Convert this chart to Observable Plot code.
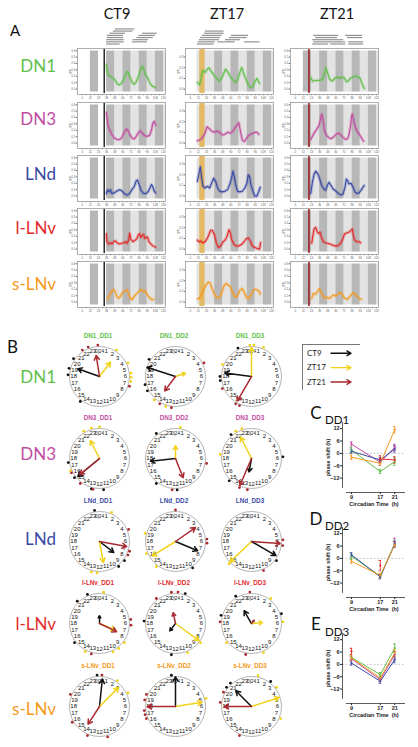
<!DOCTYPE html>
<html><head><meta charset="utf-8">
<script src="https://cdn.jsdelivr.net/npm/d3@7"></script>
<script src="https://cdn.jsdelivr.net/npm/@observablehq/plot@0.6"></script>
<style>
html,body{margin:0;padding:0;background:#fff}
#root{position:relative;width:418px;height:747px;overflow:hidden;background:#fff}
#root svg{position:absolute;display:block}
.lbl{position:absolute;white-space:nowrap;line-height:1}
</style></head><body><div id="root"></div><script>
// ================= DATA =================
const neurons = ["DN1","DN3","LNd","l-LNv","s-LNv"];
const neuronColors = ["#62bf4b","#c24c9f","#3a4aa4","#e42a2b","#f49a20"];
const conditions = ["CT9","ZT17","ZT21"];
const conditionColors = ["#111111","#f1d21a","#a92a31"];
const days = ["DD1","DD2","DD3"];

// light schedule bands (hours)
const darkCT9  = [[12,24],[36,48],[60,72],[84,96],[108,120]];
const lightCT9 = [[48,60],[72,84],[96,108],[120,123]];
const darkZT17  = [[36,48],[60,72],[84,96],[108,120]];
const lightZT17 = [[10,36],[48,60],[72,84],[96,108],[120,123]];
const darkZT21  = [[12,24],[36,48],[60,72],[84,96],[108,120]];
const lightZT21 = [[24,36],[48,60],[72,84],[96,108],[120,123]];
// stimulation windows (hours)
const pulseStart = [32.2, 14, 19.8];
const pulseEnd   = [34.2, 22, 22.2];

// significance bars above panel A: [row, start h, end h]
const ganttCT9  = [[0,36,56],[1,36,62],[1,74,96],[2,36,62],[2,75,98],[3,37,61],[3,81,105],[4,37,61],[4,84,108],[5,41,64],[5,89,111],[6,46,75],[7,49,78]];
const ganttZT17 = [[0,10.5,35.5],[1,12,37],[1,41,66.5],[1,80,103],[2,13.4,43],[2,52,74],[3,15,44.4],[3,58,84],[4,18,47],[4,61,86],[5,21,50],[6,22.3,50]];
const ganttZT21 = [[0,25.8,49.4],[0,52.4,74.5],[0,79,101],[1,27.3,55.3],[1,55.3,74.5],[1,79,101],[2,25.8,71.5],[3,30.2,62.7],[3,77.4,99.6],[4,27.3,64.2],[4,74.5,99.6]];

// GCaMP traces (time h, signal)
const t_CT9_DN1 = [35.5,36.5,38,41.4,45.4,48.8,52.3,55.2,58.7,62.1,65,67,69,70.9,73.9,76.8,79.8,83.2,86.7,88.6,90.6,93.6,96.5,100.4,104.4,108.3];
const v_CT9_DN1 = [0.385,0.30,0.225,0.2,0.175,0.135,0.075,0.065,0.1,0.175,0.25,0.275,0.235,0.175,0.1,0.075,0.115,0.2,0.315,0.36,0.315,0.225,0.175,0.085,0.04,0.025];
const t_CT9_DN3 = [35.6,36.5,38,40.5,43.9,47.4,51.3,55.2,58.7,62.1,65.1,67,70,73.4,76.9,79.8,83.3,85.7,88.7,91.6,95.5,99.5,102.4,104.4,106.3,108.3];
const v_CT9_DN3 = [0.48,0.405,0.28,0.205,0.13,0.08,0.055,0.055,0.09,0.17,0.22,0.205,0.14,0.08,0.065,0.105,0.17,0.19,0.155,0.12,0.105,0.12,0.205,0.32,0.34,0.28];
const t_CT9_LNd = [35.6,37.5,39.5,41.5,43.9,47.4,51.3,55.2,58.7,62.1,66.1,70,73.4,76.9,79.8,81.8,83.7,86.7,90.6,94.6,98,100.5,102.4,104.4,106.3,108.3];
const v_CT9_LNd = [0.04,0.1,0.065,0.1,0.04,0.05,0.08,0.1,0.08,0.04,0.015,0.04,0.1,0.15,0.24,0.25,0.19,0.09,0.04,0.04,0.08,0.14,0.18,0.14,0.08,0.05];
const t_CT9_lLNv = [35.6,36.5,39,41.5,43.9,46.4,48.8,51.3,55.2,58.7,61.1,63.6,66,68.5,70,71.9,74.9,78.3,80.8,83.2,84.7,86.7,88.7,90.6,92.6,94.6,96.5,98.5,101.4,104.4,108.3];
const v_CT9_lLNv = [0.24,0.115,0.08,0.1,0.08,0.115,0.13,0.1,0.08,0.09,0.1,0.115,0.09,0.14,0.25,0.15,0.115,0.14,0.165,0.23,0.24,0.18,0.215,0.23,0.165,0.18,0.19,0.115,0.08,0.05,0.03];
const t_CT9_sLNv = [37.5,40.5,43.9,46.4,48.8,51.3,53.7,56.2,58.7,61.1,63.6,66,68.5,70.9,73.4,75.9,78.3,80.8,83.2,85.7,88.2,90.6,93.1,95.5,98,100.5,102.9,105.4];
const v_CT9_sLNv = [0.045,0.11,0.175,0.195,0.16,0.085,0.06,0.085,0.135,0.16,0.175,0.195,0.135,0.06,0.035,0.075,0.11,0.135,0.16,0.195,0.185,0.16,0.175,0.125,0.085,0.06,0.035,0.045];

const t_ZT17_DN1 = [10.5,13.9,16.9,18.8,21.8,25.2,27.7,31.6,35.6,39.5,42.4,46.4,49.3,52.3,55.2,59.2,63.1,67,70,72.9,75.9,78.8,81.8,85.7,89.1,92.6,95.5,98.5,100.5,102.4];
const v_ZT17_DN1 = [0.064,0.04,0.131,0.177,0.156,0.187,0.199,0.162,0.125,0.101,0.076,0.101,0.147,0.187,0.162,0.116,0.086,0.064,0.086,0.147,0.202,0.147,0.101,0.04,0.015,0.024,0.07,0.101,0.076,0.055];
const t_ZT17_DN3 = [10.5,13.9,16.9,18.8,21.8,24.7,27.7,31.6,35.6,39.5,43.4,47.4,51.3,55.2,59.2,63.1,67,70,71.9,74.4,76.9,79.8,82.8,85.7,89.1,92.6,95.5,98.5,101.4];
const v_ZT17_DN3 = [0.021,0.031,0.04,0.061,0.092,0.153,0.138,0.113,0.101,0.113,0.101,0.076,0.083,0.101,0.092,0.113,0.153,0.174,0.193,0.101,0.031,0.015,0.04,0.07,0.083,0.092,0.101,0.101,0.083];
const t_ZT17_LNd = [10.5,13,14.9,16.9,18.8,21.8,25.2,28.7,31.6,34.6,37.5,40.5,43.4,47.4,51.3,55.2,58.2,61.1,63.1,65.1,67,70,72.9,76.9,80.8,83.7,85.7,87.7,89.6,92.6,95.5,98.5,101.4,103.4];
const v_ZT17_LNd = [0.138,0.214,0.275,0.168,0.092,0.076,0.092,0.076,0.122,0.168,0.138,0.076,0.046,0.04,0.046,0.061,0.107,0.168,0.235,0.183,0.107,0.046,0.04,0.046,0.076,0.122,0.199,0.183,0.107,0.046,0.0,0.0,0.046,0.083];
const t_ZT17_lLNv = [10.5,13,15.4,17.9,20.3,22.8,26.7,30.1,32.6,35.6,38.5,41.5,44.9,48.3,52.3,55.2,57.2,59.2,61.1,64.6,68,72,75.9,79.3,82.8,85.7,88.7,91.6,95.5,99,102.4,103.9];
const v_ZT17_lLNv = [0.085,0.067,0.076,0.061,0.061,0.076,0.121,0.176,0.176,0.136,0.061,0.015,0.03,0.067,0.091,0.136,0.182,0.152,0.091,0.045,0.03,0.03,0.045,0.067,0.097,0.106,0.076,0.03,0.015,0.006,0.0,0.061];
const t_ZT17_sLNv = [10.5,13.9,16.9,20.3,23.8,26.7,29.7,32.6,35.6,38.5,41.5,44.9,47.4,50.3,53.3,56.2,59.2,62.1,65.1,68,71,73.9,76.9,79.8,82.8,85.7,89.1,92.6,95.5,98.5,101.4,103.4];
const v_ZT17_sLNv = [0.03,0.039,0.076,0.121,0.167,0.188,0.176,0.121,0.076,0.045,0.036,0.061,0.106,0.158,0.176,0.158,0.145,0.097,0.055,0.045,0.076,0.115,0.127,0.091,0.045,0.03,0.061,0.106,0.121,0.115,0.106,0.076];

const t_ZT21_DN1 = [22.9,25.3,30.3,35.2,40.1,42.5,45,47.5,50.9,54.8,58.8,62.2,65.7,69.6,72.5,75.5,78.4,81.9,85.3,89.3,93.2,96.1,98.1,100.1,102];
const v_ZT21_DN1 = [0.185,0.125,0.135,0.135,0.15,0.215,0.335,0.265,0.15,0.125,0.175,0.185,0.175,0.19,0.175,0.115,0.125,0.175,0.19,0.2,0.19,0.165,0.1,0.05,0.01];
const t_ZT21_DN3 = [22.9,25.3,29.3,32.7,35.2,37.6,39.1,41.1,43,46,49.9,53.9,57.3,60.7,63.7,67.1,70.6,74.5,77.5,79.4,81.9,83.4,84.3,86.3,89.3,93.2,96.6,99.1,101.1];
const v_ZT21_DN3 = [0.055,0.105,0.18,0.23,0.28,0.38,0.455,0.355,0.205,0.12,0.08,0.07,0.105,0.14,0.155,0.13,0.09,0.055,0.07,0.13,0.28,0.43,0.455,0.355,0.23,0.155,0.105,0.055,0.03];
const t_ZT21_LNd = [22.9,25.3,27.8,30.3,33.2,36.2,39.1,42.1,45,48,49.9,52.9,55.8,59.8,63.7,67.6,70.6,73.5,75.5,77.5,79.4,82.4,85.3,88.3,91.2,94.2,97.1,100.1,102];
const v_ZT21_LNd = [0.04,0.215,0.34,0.39,0.35,0.265,0.165,0.115,0.09,0.18,0.215,0.165,0.115,0.08,0.04,0.015,0.03,0.14,0.265,0.24,0.19,0.2,0.14,0.065,0.04,0.05,0.09,0.14,0.165];
const t_ZT21_lLNv = [24.3,25.8,27.8,30.2,32.7,34.7,36.6,38.6,41.5,44.5,47.4,51.4,54.8,58.3,62.2,66.1,69.6,73,76,79.4,81.9,84.3,85.8,87.8,90.7,94.2,96.6];
const v_ZT21_lLNv = [0.09,0.19,0.315,0.34,0.265,0.24,0.265,0.19,0.115,0.1,0.09,0.08,0.065,0.05,0.05,0.08,0.14,0.24,0.25,0.265,0.29,0.315,0.215,0.14,0.115,0.115,0.1];
const t_ZT21_sLNv = [24.3,26.8,30.2,32.7,35.6,37.6,40.1,43.5,47.4,50.4,53.3,56.3,59.7,63.2,67.1,70.1,73,77,80.9,84.3,86.8,89.7,92.7,95.6,97.6];
const v_ZT21_sLNv = [0.06,0.135,0.125,0.16,0.21,0.175,0.11,0.06,0.075,0.055,0.085,0.11,0.095,0.125,0.145,0.11,0.06,0.045,0.085,0.135,0.145,0.11,0.075,0.045,0.045];

// Panel B: mean phase vectors [neuron][DD1,DD2,DD3]
const hourCT9  = [[19.3,19.2,18.5],[15.35,17.6,12.7],[8.5,7.5,8.0],[0,14.5,22],[0.4,0,21]];
const lenCT9   = [[0.77,1.0,0.9],[0.94,0.84,0.46],[0.6,0.8,0.94],[0.26,0.31,0.49],[0.92,0.99,0.74]];
const hourZT17 = [[2.5,4.8,0],[22.2,0,22.2],[11.3,15.9,15.1],[7.5,8.4,5.7],[3.0,5.4,4.8]];
const lenZT17  = [[0.6,0.35,0.97],[0.67,0.43,0.8],[0.71,0.91,1.0],[0.58,0.97,0.37],[0.9,0.9,0.97]];
const hourZT21 = [[23.4,14.45,14.0],[15.4,10.55,13.56],[6.7,3.67,6.27],[7.7,23.2,2.6],[14.2,18,18]];
const lenZT21  = [[0.71,0.6,0.94],[0.85,0.69,0.98],[0.92,0.81,0.96],[0.63,0.37,0.14],[0.7,0.94,0.91]];
// individual phases (hours) [neuron][day]
const phasesCT9 = [
  [[18.2,19,20.3,14.5],[20.2,17,16.2],[22.3,18,17.5]],
  [[17.5,15.5,13,11.5],[21.5,14.5,11.8],[21.3,5.8,15]],
  [[23.4,8.5,9.5],[9.8],[8.5]],
  [[22.5,21,15.5],[1.2,18.3,12.5],[22,4.8,19]],
  [[23.7],[23.5],[21.2,20.5,2.5]]];
const phasesZT17 = [
  [[2.2,4.3,5.6,6.1,6.6],[14.8,13.2],[23.8,0.3,1.5,19.5]],
  [[23,0,22,16.5],[0.6],[22,22.8,18.5]],
  [[1.5,12.3,13],[19,16.5,14.5],[15]],
  [[0.5,8.5,9.5,10.3,13.8],[8.5,10.5],[2.5,5.8,15.5,10.5]],
  [[2.3,4.3],[5],[0.8,3.5,7.5]]];
const phasesZT21 = [
  [[21.8,22.6,23.8,7.2],[4.3,14,12.5],[14,13.5,16.5]],
  [[16.2,14.5,12.8],[6.6,12.4],[13.5,12.5]],
  [[4.5,7.2,7.7],[0,5.7,6.2],[5.8,6.5,10.5]],
  [[5.5,6.2,13],[23.5,0.3,21.5],[23.8,18.2,12.7]],
  [[0.3,19.5,16,13.5,11],[19.5,18.8,17,16.5,17.5],[19.8,18.5,13.5]]];
const clockHours = d3.range(1, 25);

// Panels C-E: phase shift (h) at circadian times [neuron][9,17,21]
const circadianTimes = [9, 17, 21];
const shiftDD1 = [[1.6,-8.8,-4.0],[4.5,-4.3,2.9],[1.0,-3.2,2.1],[null,-2.7,-3.2],[-1.9,-4.8,11.5]];
const errDD1   = [[1.2,1,1.8],[1,1.5,1.5],[1,1,1.5],[0,1.5,1.5],[1,1,1.5]];
const shiftDD2 = [[1.0,-8.6,7.1],[null,null,7.8],[1.7,-9.0,6.8],[null,-3.5,null],[-1.4,-8.3,6.5]];
const errDD2   = [[1.5,1,1.5],[0,0,2],[1,1,1.5],[0,2.5,0],[1,1,1]];
const shiftDD3 = [[3.4,-5.0,7.9],[2.7,-7.4,4.7],[0.6,-8.2,2.3],[6.3,null,null],[3.1,-6.6,5.5]];
const errDD3   = [[1,1,2],[1,1,1.5],[1,1,1.5],[1.5,0,0],[1,1,1.5]];

// ================= DRAW =================
const root = document.getElementById("root");
const FONT = "Lato, 'Open Sans', 'Liberation Sans', sans-serif";
const AFONT = "'Liberation Sans', Arial, sans-serif";
function put(svg, left, top){ svg.style.left = left+"px"; svg.style.top = top+"px"; root.appendChild(svg); }
function label(text, x, y, size, color, anchor="middle", weight="normal", family=FONT){
  const d = document.createElement("div"); d.className="lbl"; d.textContent = text;
  const tx = anchor==="middle" ? "-50%" : anchor==="end" ? "-100%" : "0";
  Object.assign(d.style,{left:x+"px",top:y+"px",fontSize:size+"px",color,fontWeight:weight,fontFamily:family,transform:`translate(${tx},-50%)`});
  root.appendChild(d);
}

const traceT = [
  [t_CT9_DN1,t_CT9_DN3,t_CT9_LNd,t_CT9_lLNv,t_CT9_sLNv],
  [t_ZT17_DN1,t_ZT17_DN3,t_ZT17_LNd,t_ZT17_lLNv,t_ZT17_sLNv],
  [t_ZT21_DN1,t_ZT21_DN3,t_ZT21_LNd,t_ZT21_lLNv,t_ZT21_sLNv]];
const traceV = [
  [v_CT9_DN1,v_CT9_DN3,v_CT9_LNd,v_CT9_lLNv,v_CT9_sLNv],
  [v_ZT17_DN1,v_ZT17_DN3,v_ZT17_LNd,v_ZT17_lLNv,v_ZT17_sLNv],
  [v_ZT21_DN1,v_ZT21_DN3,v_ZT21_LNd,v_ZT21_lLNv,v_ZT21_sLNv]];
const darkBands = [darkCT9, darkZT17, darkZT21];
const lightBands = [lightCT9, lightZT17, lightZT21];
const gantts = [ganttCT9, ganttZT17, ganttZT21];
const pulseFill = ["#111111","#e3b24f","#9c2228"];

const frameLeft = [77.3, 184.5, 290.2];
const frameTop = [48, 101.5, 155, 207.5, 260.5];
const xDomA = [-7, 123];

// Panel A gantt bars
for (let c = 0; c < 3; c++) {
  put(Plot.plot({
    width: 103, height: 20, marginLeft: 14, marginRight: 1, marginTop: 0, marginBottom: 0,
    x: {domain: xDomA, axis: null}, y: {domain: [0, 8], range: [17.5, 0.3], axis: null},
    style: {background: "transparent"},
    marks: [Plot.ruleY(gantts[c], {y: d => d[0], x1: d => d[1], x2: d => d[2], stroke: "#929292", strokeWidth: 1.2})]
  }), frameLeft[c] - 14, 26);
}

// Panel A traces
for (let c = 0; c < 3; c++) {
  for (let r = 0; r < 5; r++) {
    const data = traceT[c][r].map((t, i) => ({t, v: traceV[c][r][i]})).filter(d => d.v != null);
    const yDom = c === 1 ? [-0.05, 0.38] : [-0.085, 0.635];
    const yTicks = c === 1 ? [0, 0.1, 0.2, 0.3] : [0, 0.1, 0.2, 0.3, 0.4, 0.5, 0.6];
    const col = neuronColors[r];
    put(Plot.plot({
      width: 103, height: 56, marginLeft: 14, marginRight: 1, marginTop: 1, marginBottom: 9,
      style: {background: "transparent", fontSize: "3px", fontFamily: AFONT, color: "#666", overflow: "visible"},
      x: {domain: xDomA, ticks: d3.range(0, 121, 6), tickSize: 1.2, tickPadding: 0.8, tickFormat: d => d % 12 === 0 ? d : "", label: null},
      y: {domain: yDom, ticks: yTicks, tickSize: 1.2, tickPadding: 0.8, tickFormat: d3.format(".1f"), label: "gm", labelAnchor: "center", labelOffset: 9, labelArrow: "none"},
      color: {type: "identity"},
      marks: [
        Plot.rect(lightBands[c], {x1: d => d[0], x2: d => d[1], fill: "#e3e3e3", insetTop: 2.5, insetBottom: 2.5}),
        Plot.rect(darkBands[c], {x1: d => d[0], x2: d => d[1], fill: "#b7b7b7", insetTop: 2.5, insetBottom: 2.5}),
        Plot.rect([[pulseStart[c], pulseEnd[c]]], {x1: d => d[0], x2: d => d[1], fill: pulseFill[c], fillOpacity: c === 1 ? 0.85 : 1, insetTop: 1, insetBottom: 1}),
        Plot.line(data, {x: "t", y: "v", stroke: col, strokeWidth: 3.2, strokeOpacity: 0.28}),
        Plot.line(data, {x: "t", y: "v", stroke: col, strokeWidth: 1.1}),
        Plot.frame({stroke: "#9a9a9a", strokeWidth: 0.8})
      ]
    }), frameLeft[c] - 14, frameTop[r] - 1);
  }
}

// Panel B clocks
const clockCX = [99, 175, 251];
const clockCY = [376, 458.3, 540.7, 622.7, 705.7];
const hourSets = [hourCT9, hourZT17, hourZT21];
const lenSets = [lenCT9, lenZT17, lenZT21];
const phaseSets = [phasesCT9, phasesZT17, phasesZT21];
const ang = h => h / 24 * 2 * Math.PI;
for (let r = 0; r < 5; r++) {
  for (let c = 0; c < 3; c++) {
    const arrows = conditions.map((cond, k) => ({k, h: hourSets[k][r][c], L: lenSets[k][r][c]}));
    const pts = conditions.flatMap((cond, k) => phaseSets[k][r][c].map(h => ({k, h})));
    put(Plot.plot({
      width: 80, height: 80, margin: 0,
      x: {domain: [-1.333, 1.333], axis: null}, y: {domain: [-1.333, 1.333], axis: null},
      color: {type: "identity"},
      style: {background: "transparent", overflow: "visible"},
      marks: [
        Plot.dot([0], {x: () => 0, y: () => 0, r: 30, stroke: "#a0a0a0", strokeWidth: 0.8, fill: "none"}),
        Plot.text(clockHours, {x: h => 0.86 * Math.sin(ang(h)), y: h => (h === 24 ? 0.84 : 0.86) * Math.cos(ang(h)), text: h => h === 24 ? "0|24" : String(h), fontSize: h => h === 24 ? 4.6 : 6, fill: "#111", fontFamily: AFONT}),
        Plot.dot(pts, {x: d => 1.05 * Math.sin(ang(d.h)), y: d => 1.05 * Math.cos(ang(d.h)), r: 1.4, fill: d => conditionColors[d.k], stroke: "none"}),
        Plot.arrow(arrows, {x1: () => 0, y1: () => 0, x2: d => d.L * Math.sin(ang(d.h)), y2: d => d.L * Math.cos(ang(d.h)), stroke: d => conditionColors[d.k], strokeWidth: 1.5, headLength: 5})
      ]
    }), clockCX[c] - 40, clockCY[r] - 40);
    label(`${neurons[r]}_${days[c]}`, clockCX[c] - 1, clockCY[r] - 40, 6.3, neuronColors[r], "middle", "bold", AFONT);
  }
}

// Legend
{
  const svg = Plot.plot({
    width: 58, height: 46, margin: 0,
    x: {domain: [0, 58], axis: null}, y: {domain: [0, 2], range: [8.8, 37.5], axis: null},
    color: {type: "identity"},
    style: {background: "transparent"},
    marks: [
      Plot.frame({stroke: "#777", strokeWidth: 1}),
      Plot.text(conditions, {x: () => 4.5, y: (d, i) => i, text: d => d, textAnchor: "start", fontSize: 8, fill: "#222", fontFamily: FONT}),
      Plot.arrow(conditions, {x1: () => 28.5, x2: () => 48.5, y1: (d, i) => i, y2: (d, i) => i, stroke: (d, i) => conditionColors[i], strokeWidth: 1.4, headLength: 5})
    ]
  });
  put(svg, 301.5, 343.5);
}

// Panels C-E
const shiftSets = [shiftDD1, shiftDD2, shiftDD3];
const errSets = [errDD1, errDD2, errDD3];
const phaseTop = [420.3, 525.2, 631];
for (let p = 0; p < 3; p++) {
  const rows = [];
  neurons.forEach((n, i) => circadianTimes.forEach((ct, j) => {
    const v = shiftSets[p][i][j];
    if (v != null) rows.push({n, i, ct, v, e: errSets[p][i][j]});
  }));
  put(Plot.plot({
    width: 91, height: 90, marginLeft: 24, marginRight: 4, marginTop: 2, marginBottom: 18,
    style: {background: "transparent", fontSize: "5.5px", fontWeight: "bold", fontFamily: AFONT, color: "#222", overflow: "visible"},
    x: {domain: [6.5, 24], ticks: circadianTimes, tickSize: 2, tickPadding: 1, label: "Circadian Time  (h)", labelAnchor: "center", labelOffset: 13, labelArrow: "none"},
    y: {domain: [-19, 15], ticks: [-12, -6, 0, 6, 12], tickSize: 2, tickPadding: 1, label: "phase shift (h)", labelAnchor: "center", labelOffset: 16, labelArrow: "none"},
    color: {type: "identity"},
    marks: [
      Plot.ruleY([0], {stroke: "#bdbdbd", strokeDasharray: "2,1.5", strokeWidth: 0.8}),
      Plot.ruleX([6.5], {y1: -17, y2: 15, stroke: "#333", strokeWidth: 0.8}),
      Plot.ruleY([-19], {x1: 7.6, x2: 24, stroke: "#333", strokeWidth: 0.8}),
      Plot.line(rows, {x: "ct", y: "v", z: "n", stroke: d => neuronColors[d.i], strokeWidth: 1}),
      Plot.ruleX(rows, {x: "ct", y1: d => d.v - d.e, y2: d => d.v + d.e, stroke: d => neuronColors[d.i], strokeWidth: 0.9}),
      Plot.ruleY(rows, {y: d => d.v + d.e, x1: d => d.ct - 0.35, x2: d => d.ct + 0.35, stroke: d => neuronColors[d.i], strokeWidth: 0.9}),
      Plot.ruleY(rows, {y: d => d.v - d.e, x1: d => d.ct - 0.35, x2: d => d.ct + 0.35, stroke: d => neuronColors[d.i], strokeWidth: 0.9}),
      Plot.dot(rows, {x: "ct", y: "v", r: 1.1, fill: d => neuronColors[d.i]})
    ]
  }), 318, phaseTop[p]);
}

// Text labels
label("A", 15, 30, 15, "#111");
label("B", 12.5, 346, 17, "#111");
label("C", 316, 411.5, 17, "#111");
label("D", 316, 517.5, 17, "#111");
label("E", 316, 622.5, 17, "#111");
label("DD1", 337, 419.5, 11.5, "#111");
label("DD2", 337, 525.5, 11.5, "#111");
label("DD3", 337, 631.5, 11.5, "#111");
const colTitleX = [117, 227, 337];
conditions.forEach((c, i) => label(c, colTitleX[i], 14, 14.5, "#111"));
const rowYA = [65, 118.3, 173.3, 226.7, 282.7];
const rowYB = [376, 453.3, 538.3, 623.3, 708.3];
neurons.forEach((n, i) => {
  label(n, 56, rowYA[i], 17, neuronColors[i], "end");
  label(n, 56, rowYB[i], 17, neuronColors[i], "end");
});
</script></body></html>
